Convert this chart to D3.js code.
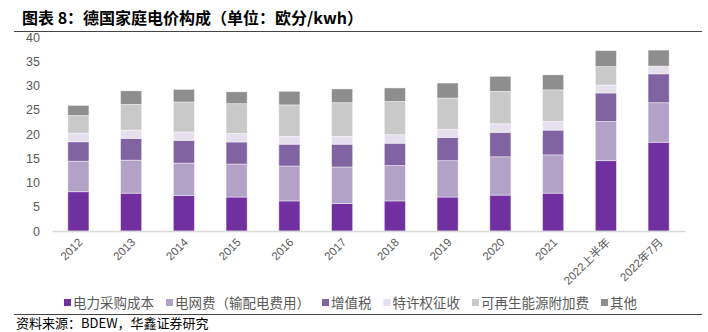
<!DOCTYPE html>
<html>
<head>
<meta charset="utf-8">
<script src="https://cdn.jsdelivr.net/npm/d3@7"></script>
<style>
  body { margin: 0; background: #fff; }
  text { font-family: "Liberation Sans", "Noto Sans CJK SC", sans-serif; }
  .cjk { font-family: "Noto Sans CJK SC", sans-serif; }
</style>
</head>
<body>
<script>
var width = 708;
var height = 332;

// 数据
var categories = ["2012", "2013", "2014", "2015", "2016", "2017", "2018", "2019", "2020", "2021", "2022上半年", "2022年7月"];
var seriesNames = ["电力采购成本", "电网费（输配电费用）", "增值税", "特许权征收", "可再生能源附加费", "其他"];
var seriesColors = ["#7030A0", "#B3A2C7", "#8064A2", "#E6DFEE", "#C9C9C9", "#8E8E8E"];

var purchase  = [8.1, 7.8, 7.35, 7.0, 6.2, 5.65, 6.2, 7.0, 7.4, 7.8, 14.5, 18.3];
var grid      = [6.3, 6.8, 6.65, 6.8, 7.2, 7.55, 7.3, 7.5, 7.9, 7.9, 8.1, 8.15];
var vat       = [4.0, 4.5, 4.7, 4.55, 4.5, 4.7, 4.6, 4.8, 5.05, 5.1, 5.85, 5.95];
var franchise = [1.8, 1.7, 1.7, 1.75, 1.6, 1.6, 1.75, 1.7, 1.75, 1.8, 1.65, 1.6];
var renewable = [3.6, 5.3, 6.2, 6.15, 6.5, 6.95, 6.85, 6.4, 6.7, 6.5, 3.8, 0];
var other     = [2.1, 2.8, 2.6, 2.45, 2.8, 2.85, 2.8, 3.1, 3.1, 3.1, 3.3, 3.3];
var yTicks = [0, 5, 10, 15, 20, 25, 30, 35, 40];

var series = [purchase, grid, vat, franchise, renewable, other];

// 组合成表
var table = categories.map(function (c, i) {
    var row = { cat: c };
    seriesNames.forEach(function (n, j) { row[n] = series[j][i]; });
    return row;
});

var svg = d3.select("body").append("svg")
    .attr("width", width)
    .attr("height", height);

// 标题
svg.append("text")
    .attr("class", "cjk")
    .attr("x", 22).attr("y", 24)
    .attr("font-size", 16).attr("font-weight", "bold")
    .attr("fill", "#000")
    .text("图表 8：德国家庭电价构成（单位：欧分/kwh）");
svg.append("line")
    .attr("x1", 14).attr("x2", 702).attr("y1", 31.5).attr("y2", 31.5)
    .attr("stroke", "#444").attr("stroke-width", 1);

// 比例尺
var x = d3.scaleBand()
    .domain(categories)
    .range([52, 685])
    .paddingInner(0.6)
    .paddingOuter(0.3);
var y = d3.scaleLinear()
    .domain([0, 40])
    .range([231, 37]);
var color = d3.scaleOrdinal().domain(seriesNames).range(seriesColors);

var stacked = d3.stack().keys(seriesNames)(table);

// 柱子
svg.append("g").selectAll("g")
    .data(stacked)
    .join("g")
    .attr("fill", function (d) { return color(d.key); })
    .selectAll("rect")
    .data(function (d) { return d; })
    .join("rect")
    .attr("x", function (d) { return x(d.data.cat); })
    .attr("width", x.bandwidth())
    .attr("y", function (d) { return y(d[1]); })
    .attr("height", function (d) { return Math.max(0, y(d[0]) - y(d[1])); })
    .attr("stroke", "rgba(255,255,255,0.55)")
    .attr("stroke-width", 0.8);

// X轴
var xAxis = svg.append("g")
    .attr("transform", "translate(0,231)")
    .call(d3.axisBottom(x).tickSize(0).tickPadding(0));
xAxis.select(".domain").attr("stroke", "#D9D9D9").attr("stroke-width", 1.5);
xAxis.selectAll("text")
    .attr("font-size", 11.5)
    .attr("fill", "#595959")
    .attr("text-anchor", "end")
    .attr("dy", 0)
    .attr("transform", "translate(5,12) rotate(-45)");

// Y轴
var yAxis = svg.append("g")
    .attr("transform", "translate(40,0)")
    .call(d3.axisLeft(y).tickValues(yTicks).tickSize(0).tickPadding(0));
yAxis.select(".domain").remove();
yAxis.selectAll("text")
    .attr("font-size", 12.5)
    .attr("fill", "#595959");

// 图例
var legend = svg.append("g").attr("transform", "translate(64,303)");
var lx = 0;
seriesNames.forEach(function (n) {
    legend.append("rect")
        .attr("x", lx).attr("y", -4)
        .attr("width", 7).attr("height", 7)
        .attr("fill", color(n));
    var t = legend.append("text")
        .attr("class", "cjk")
        .attr("x", lx + 9).attr("y", 4.5)
        .attr("font-size", 13.5)
        .attr("fill", "#595959")
        .text(n);
    lx += 9 + t.node().getComputedTextLength() + 12;
});

// 底部
svg.append("line")
    .attr("x1", 14).attr("x2", 702).attr("y1", 314.5).attr("y2", 314.5)
    .attr("stroke", "#444").attr("stroke-width", 1);
svg.append("text")
    .attr("class", "cjk")
    .attr("x", 16).attr("y", 328)
    .attr("font-size", 13)
    .attr("fill", "#000")
    .text("资料来源：BDEW，华鑫证券研究");
</script>
</body>
</html>
